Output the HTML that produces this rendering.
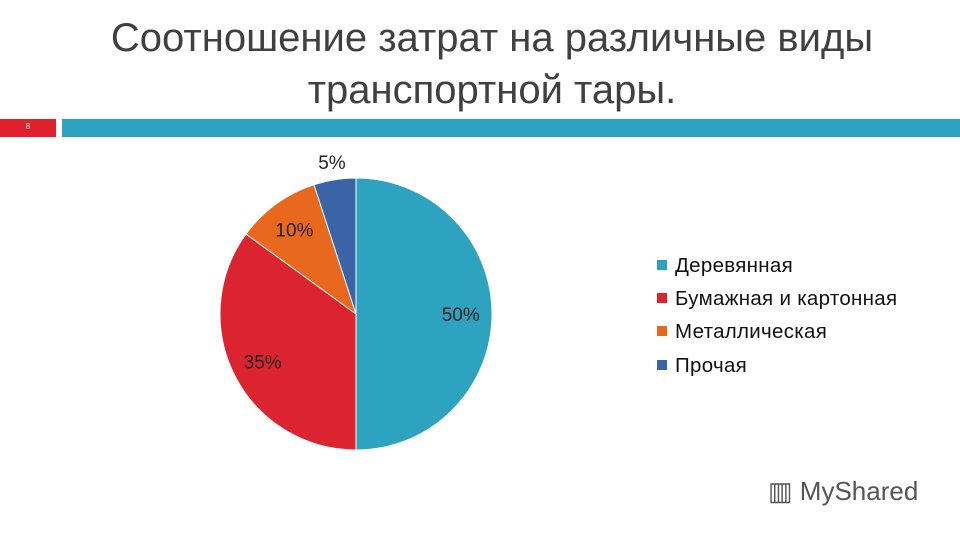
<!DOCTYPE html>
<html><head><meta charset="utf-8"><style>
body{margin:0;width:960px;height:540px;background:#fff;overflow:hidden;font-family:"Liberation Sans",sans-serif;position:relative}
.t{position:absolute;left:0;width:984px;text-align:center;font-size:40px;color:#404040;line-height:52px}
.leg{position:absolute;left:657px;font-size:20.5px;color:#111;letter-spacing:0.3px}
.leg span{display:inline-block;width:10px;height:10px;margin-right:8px;vertical-align:2px}
</style></head><body>
<div class="t" style="top:12px">Соотношение затрат на различные виды<br>транспортной тары.</div>
<div style="position:absolute;left:0;top:119px;width:56px;height:18px;background:#e0202c;color:#fff;font-size:8px;text-align:center;line-height:16px">8</div>
<div style="position:absolute;left:62px;top:119px;width:898px;height:18px;background:#2ea3c0"></div>
<svg id="pie" width="960" height="540" style="position:absolute;left:0;top:0"></svg>
<div class="leg" style="top:254px"><span style="background:#2ea3c0"></span>Деревянная</div>
<div class="leg" style="top:287px"><span style="background:#dc2430"></span>Бумажная и картонная</div>
<div class="leg" style="top:320px"><span style="background:#e8681e"></span>Металлическая</div>
<div class="leg" style="top:354px"><span style="background:#3a64a6"></span>Прочая</div>
<div style="position:absolute;left:768px;top:476px;font-size:26px;color:#555">▥ MyShared</div>
<script>
const categories=["Деревянная","Бумажная и картонная","Металлическая","Прочая"];
const values=[50,35,10,5];
const labels=["50%","35%","10%","5%"];
const colors=["#2ea3c0","#dc2430","#e8681e","#3a64a6"];
const svg=document.getElementById('pie');const NS="http://www.w3.org/2000/svg";
const cx=356,cy=314,r=136;const total=values.reduce((a,b)=>a+b,0);
let a0=0;
values.forEach((v,i)=>{
 const a1=a0+v/total*2*Math.PI;
 const p=(a)=>[cx+r*Math.sin(a),cy-r*Math.cos(a)];
 const [x0,y0]=p(a0),[x1,y1]=p(a1);
 const path=document.createElementNS(NS,'path');
 path.setAttribute('d',`M${cx},${cy}L${x0},${y0}A${r},${r} 0 ${a1-a0>Math.PI?1:0} 1 ${x1},${y1}Z`);
 path.setAttribute('fill',colors[i]);path.setAttribute('stroke','#fff');path.setAttribute('stroke-width','1');
 
 
 svg.appendChild(path);
 const m=(a0+a1)/2;const lr=v/total<0.07?r*1.13:r*0.77;
 const t=document.createElementNS(NS,'text');
 t.setAttribute('x',cx+lr*Math.sin(m));t.setAttribute('y',cy-lr*Math.cos(m)+7);
 t.setAttribute('text-anchor','middle');t.setAttribute('font-size','19');t.setAttribute('fill','#222');
 t.setAttribute('font-family','Liberation Sans, sans-serif');
 t.textContent=labels[i];
 
 
 svg.appendChild(t);
 a0=a1;
});
</script>
</body></html>
